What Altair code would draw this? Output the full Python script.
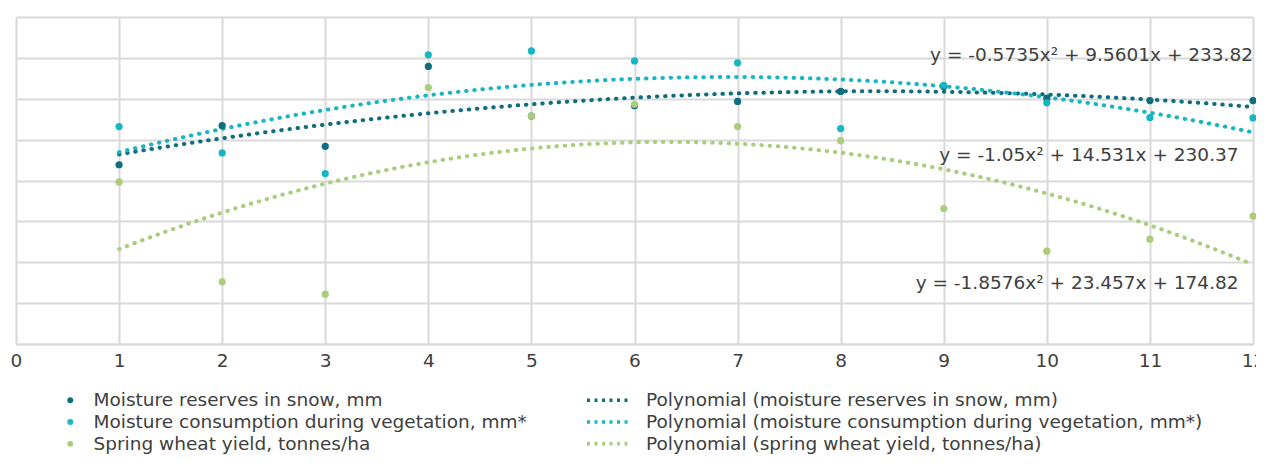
import altair as alt
import pandas as pd

# ---- data ----
x_vals = list(range(1, 13))
reserves = [237.7, 256.8, 246.7, 285.8, 261.5, 266.6, 268.7, 273.6, 276.0, 270.3, 269.1, 269.1]
consumption = [256.4, 243.5, 233.4, 291.5, 293.4, 288.5, 287.6, 255.4, 276.6, 268.0, 260.8, 260.6]
wheat = [229.3, 180.4, 174.4, 275.5, 261.5, 267.3, 256.4, 249.5, 216.3, 195.4, 201.3, 212.6]

series_names = [
    "Moisture reserves in snow, mm",
    "Moisture consumption during vegetation, mm*",
    "Spring wheat yield, tonnes/ha",
]
poly_names = [
    "Polynomial (moisture reserves in snow, mm)",
    "Polynomial (moisture consumption during vegetation, mm*)",
    "Polynomial (spring wheat yield, tonnes/ha)",
]
colors = ["#0f6e7e", "#17b6c2", "#a9cd7b"]

# trendline coefficients, as printed on the chart
coef_a = [-0.5735, -1.05, -1.8576]
coef_b = [9.5601, 14.531, 23.457]
coef_c = [233.82, 230.37, 174.82]
equations = [
    "y = -0.5735x² + 9.5601x + 233.82",
    "y = -1.05x² + 14.531x + 230.37",
    "y = -1.8576x² + 23.457x + 174.82",
]
eq_x = [12.0, 11.86, 11.86]
eq_y = [291.4, 242.5, 179.8]

x_ticks = list(range(0, 13))
y_grid = list(range(150, 311, 20))

FONT = "DejaVu Sans"
FS = 18.5
TXT = "#404040"
GRID = "#d9d9d9"

rows = []
for name, vals in zip(series_names, [reserves, consumption, wheat]):
    for xv, v in zip(x_vals, vals):
        rows.append({"x": xv, "value": v, "series": name})
df = pd.DataFrame(rows)

xscale = alt.Scale(domain=[0, 12], nice=False, zero=False)
yscale = alt.Scale(domain=[150, 310], nice=False, zero=False)

xaxis = alt.Axis(values=x_ticks, grid=True, gridColor=GRID, gridWidth=2, ticks=False,
                 domainColor=GRID, domainWidth=2, labelFontSize=FS, labelFont=FONT,
                 labelColor=TXT, labelPadding=7, title=None, format="d",
                 labelFlush=False, labelOverlap=False)
yaxis = alt.Axis(values=y_grid, grid=True, gridColor=GRID, gridWidth=2, ticks=False,
                 labels=False, domain=False, title=None)

line_legend = alt.Legend(
    title=None, orient="none", legendX=569, legendY=374, direction="vertical",
    symbolType="stroke", symbolSize=2025, symbolStrokeWidth=3.5,
    symbolDash=[3, 4.5], clipHeight=FS,
    labelFontSize=FS, labelFont=FONT, labelColor=TXT, labelOffset=12,
    rowPadding=2.8, labelLimit=700,
)

line_layers = []
for i in range(3):
    ln = alt.Chart(alt.sequence(1, 12.001, 0.05, as_="x")).transform_calculate(
        value=f"{coef_a[i]}*datum.x*datum.x + {coef_b[i]}*datum.x + {coef_c[i]}",
        poly=f"'{poly_names[i]}'",
    ).mark_line(strokeWidth=4, strokeDash=[0.5, 7.7], strokeCap="round").encode(
        x=alt.X("x:Q", scale=xscale, axis=xaxis),
        y=alt.Y("value:Q", scale=yscale, axis=yaxis),
        stroke=alt.Stroke("poly:N", scale=alt.Scale(domain=poly_names, range=colors),
                          legend=line_legend),
    )
    line_layers.append(ln)

points = alt.Chart(df).mark_circle(size=52, opacity=1).encode(
    x=alt.X("x:Q", scale=xscale, axis=xaxis),
    y=alt.Y("value:Q", scale=yscale, axis=yaxis),
    fill=alt.Fill(
        "series:N",
        scale=alt.Scale(domain=series_names, range=colors),
        legend=alt.Legend(
            title=None, orient="none", legendX=45, legendY=374, direction="vertical",
            symbolType="circle", symbolSize=35,
            labelFontSize=FS, labelFont=FONT, labelColor=TXT, labelOffset=14,
            rowPadding=2.8, labelLimit=700,
        ),
    ),
)

eq_df = pd.DataFrame({"ex": eq_x, "ey": eq_y, "text": equations})
text = alt.Chart(eq_df).mark_text(
    align="right", baseline="middle", fontSize=FS, font=FONT, color=TXT
).encode(x=alt.X("ex:Q", scale=xscale), y=alt.Y("ey:Q", scale=yscale), text="text:N")

chart = alt.layer(*line_layers, points, text).properties(
    width=1237, height=327,
    autosize=alt.AutoSizeParams(type="none"),
    padding={"left": 8, "top": 9, "right": 3, "bottom": 120},
).configure_view(stroke=None)

chart.save("out.html", embed_options={"renderer": "svg", "actions": False})
